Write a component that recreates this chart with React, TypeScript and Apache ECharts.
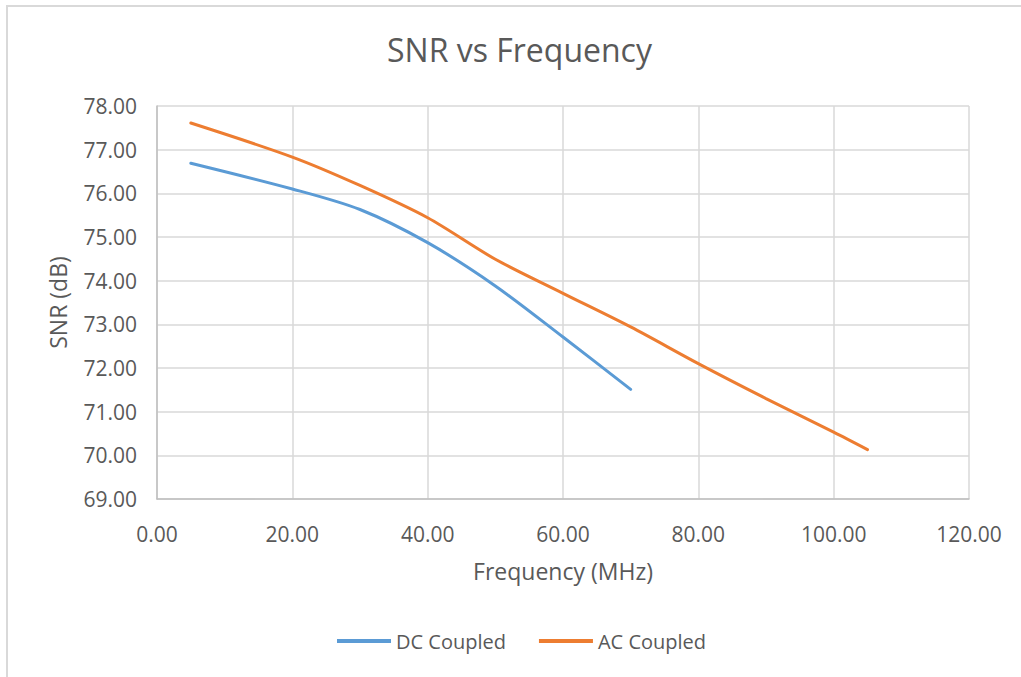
import React, { useEffect, useRef } from "react";
import * as echarts from "echarts";

const titleText = "SNR vs Frequency";
const xAxisName = "Frequency (MHz)";
const yAxisName = "SNR (dB)";
const dcName = "DC Coupled";
const acName = "AC Coupled";

const freqDC = [5, 20, 30, 40, 50, 60, 70];
const snrDC = [76.69, 76.1, 75.63, 74.87, 73.88, 72.71, 71.51];
const freqAC = [5, 20, 30, 40, 50, 60, 70, 80, 90, 100, 105];
const snrAC = [77.61, 76.83, 76.18, 75.44, 74.49, 73.71, 72.94, 72.1, 71.3, 70.53, 70.13];

const xMin = 0, xMax = 120, xStep = 20;
const yMin = 69, yMax = 78, yStep = 1;

const FONT = "'Open Sans', sans-serif";
const TXT = "#595959";

export default function App() {
  const ref = useRef<HTMLDivElement>(null);
  useEffect(() => {
    if (!ref.current) return;
    const chart = echarts.init(ref.current, null, { renderer: "svg" });
    const dcData = freqDC.map((f, i) => [f, snrDC[i]]);
    const acData = freqAC.map((f, i) => [f, snrAC[i]]);
    chart.setOption({
      animation: false,
      backgroundColor: "#ffffff",
      textStyle: { fontFamily: FONT },
      title: {
        text: titleText,
        left: 382,
        top: 28,
        textStyle: { fontFamily: FONT, fontSize: 32, fontWeight: "normal", color: TXT },
      },
      graphic: [
        {
          type: "polyline",
          shape: { points: [[7, 677], [7, 6], [1021, 6]] },
          style: { stroke: "#d9d9d9", lineWidth: 2, fill: "none" },
          silent: true,
        },
      ],
      legend: {
        top: 626,
        left: 332,
        itemWidth: 54,
        itemHeight: 4,
        itemGap: 33,
        icon: "rect",
        textStyle: { fontFamily: FONT, fontSize: 20, color: TXT, padding: [0, 0, 0, 0] },
        data: [dcName, acName],
      },
      grid: { left: 157, right: 52, top: 106, bottom: 178, containLabel: false },
      xAxis: {
        type: "value",
        min: xMin,
        max: xMax,
        interval: xStep,
        name: xAxisName,
        nameLocation: "middle",
        nameGap: 60,
        nameTextStyle: { fontFamily: FONT, fontSize: 23, color: TXT },
        axisLine: { show: true, lineStyle: { color: "#bfbfbf", width: 1.5 } },
        axisTick: { show: false },
        axisLabel: {
          fontFamily: FONT,
          fontSize: 21,
          color: TXT,
          margin: 24,
          formatter: (v: number) => v.toFixed(2),
        },
        splitLine: { show: true, lineStyle: { color: "#d9d9d9", width: 1.5 } },
      },
      yAxis: {
        type: "value",
        min: yMin,
        max: yMax,
        interval: yStep,
        name: yAxisName,
        nameLocation: "middle",
        nameGap: 88,
        nameTextStyle: { fontFamily: FONT, fontSize: 23, color: TXT },
        axisLine: { show: true, lineStyle: { color: "#bfbfbf", width: 1.5 } },
        axisTick: { show: false },
        axisLabel: {
          fontFamily: FONT,
          fontSize: 21,
          color: TXT,
          margin: 20,
          formatter: (v: number) => v.toFixed(2),
        },
        splitLine: { show: true, lineStyle: { color: "#d9d9d9", width: 1.5 } },
      },
      series: [
        {
          name: dcName,
          type: "line",
          data: dcData,
          smooth: 0.3,
          showSymbol: false,
          symbol: "none",
          lineStyle: { color: "#5B9BD5", width: 3, cap: "round" },
          itemStyle: { color: "#5B9BD5" },
        },
        {
          name: acName,
          type: "line",
          data: acData,
          smooth: 0.3,
          showSymbol: false,
          symbol: "none",
          lineStyle: { color: "#ED7D31", width: 3, cap: "round" },
          itemStyle: { color: "#ED7D31" },
        },
      ],
    });
    return () => chart.dispose();
  }, []);
  return (
    <div
      ref={ref}
      style={{ position: "fixed", left: 0, top: 0, width: 1021, height: 677, background: "#fff" }}
    />
  );
}
